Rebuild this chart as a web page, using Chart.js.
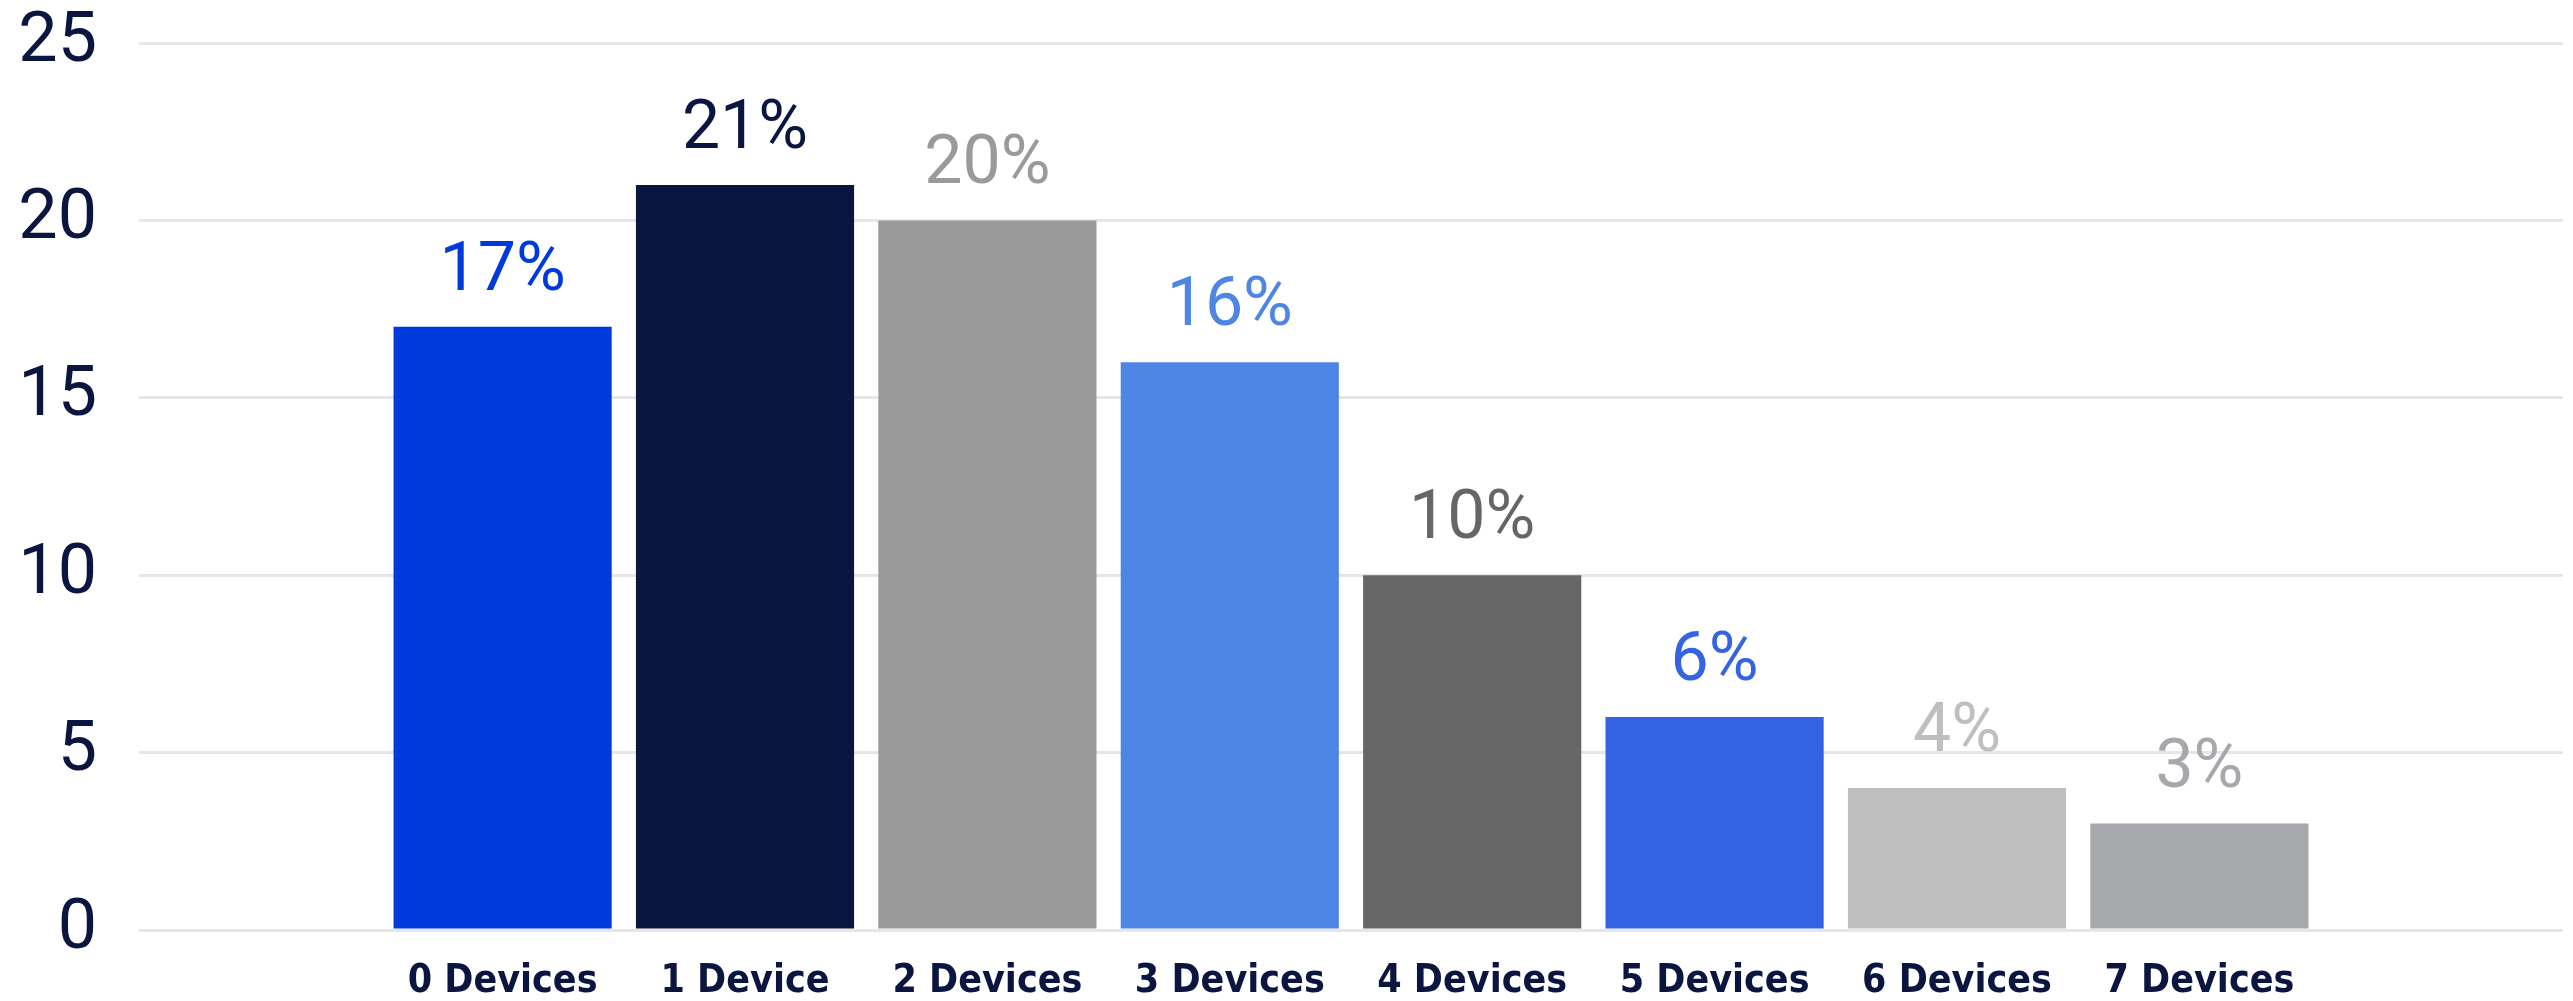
<!DOCTYPE html>
<html>
<head>
<meta charset="utf-8">
<script src="https://cdn.jsdelivr.net/npm/chart.js@4/dist/chart.umd.min.js"></script>
<style>
  html, body { margin: 0; padding: 0; background: #fff; }
  canvas { display: block; }
</style>
</head>
<body>
<canvas id="devicesChart" width="2573" height="1001"></canvas>
<script>
// categories and values
const categories = ['0 Devices', '1 Device', '2 Devices', '3 Devices', '4 Devices', '5 Devices', '6 Devices', '7 Devices'];
const shares = [17, 21, 20, 16, 10, 6, 4, 3];
const barColors = ['#003ADD', '#0B1640', '#9A9A9A', '#4F86E6', '#666666', '#3463E3', '#BFBFBF', '#A7A8AC'];
const yTicks = [0, 5, 10, 15, 20, 25];

// the axis has one empty slot on each side of the bars
const labels = [''].concat(categories, ['']);
const values = [null].concat(shares, [null]);
const colors = ['#fff'].concat(barColors, ['#fff']);

// percent labels above each bar
const valueLabels = {
    id: 'valueLabels',
    afterDatasetsDraw(chart) {
        const ctx = chart.ctx;
        const meta = chart.getDatasetMeta(0);
        ctx.save();
        ctx.font = '400 68px Roboto';
        ctx.textAlign = 'center';
        ctx.textBaseline = 'alphabetic';
        meta.data.forEach((bar, i) => {
            const v = values[i];
            if (v === null) return;
            ctx.fillStyle = colors[i];
            ctx.fillText(v + '%', bar.x, bar.y - 37);
        });
        ctx.restore();
    }
};

new Chart(document.getElementById('devicesChart').getContext('2d'), {
    type: 'bar',
    data: {
        labels: labels,
        datasets: [{
            data: values,
            backgroundColor: colors,
            barPercentage: 0.9,
            categoryPercentage: 1.0
        }]
    },
    options: {
        responsive: false,
        animation: false,
        devicePixelRatio: 1,
        layout: { padding: { top: 43, right: 10, left: 0, bottom: 0 } },
        plugins: {
            legend: { display: false },
            tooltip: { enabled: false }
        },
        scales: {
            x: {
                grid: { display: false },
                border: { display: false },
                ticks: {
                    color: '#0B1640',
                    font: { family: 'DejaVu Sans Condensed', weight: 'bold', size: 39 },
                    padding: 20,
                    maxRotation: 0,
                    autoSkip: false
                },
                afterFit(scale) {
                    scale.height = 71;
                    scale.paddingLeft = 0;
                    scale.paddingRight = 0;
                }
            },
            y: {
                min: 0,
                max: 25,
                afterBuildTicks(scale) { scale.ticks = yTicks.map(v => ({ value: v })); },
                grid: { color: '#E6E6E6', lineWidth: 3, drawTicks: false },
                border: { display: false },
                ticks: {
                    color: '#0B1640',
                    font: { family: 'Roboto', weight: '400', size: 70 },
                    padding: 42
                },
                afterFit(scale) {
                    scale.width = 139;
                    scale.paddingTop = 0;
                    scale.paddingBottom = 0;
                }
            }
        }
    },
    plugins: [valueLabels]
});
</script>
</body>
</html>
